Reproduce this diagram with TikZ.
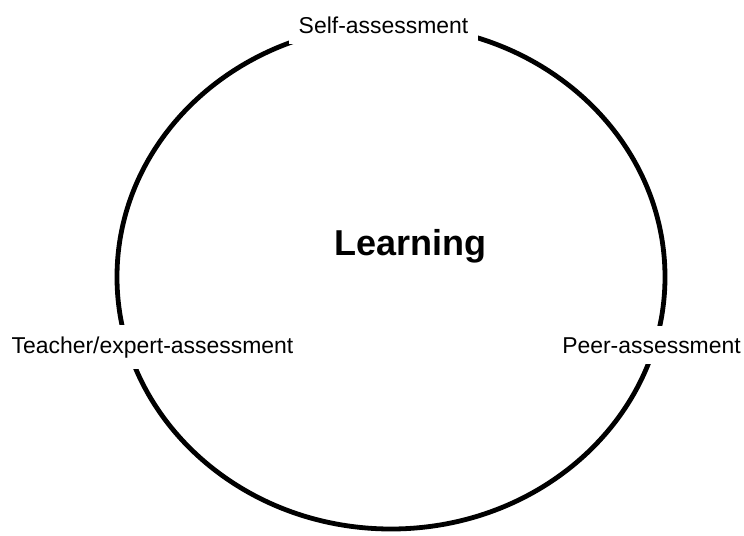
\documentclass[tikz,border=0pt]{standalone}
\usepackage{fontspec}
\setmainfont{Liberation Sans}
\usetikzlibrary{shapes.geometric}

\tikzset{
    cyclering/.style={ellipse,draw,line width=3.6pt,minimum width=411pt,minimum height=378pt},
    assess/.style={fill=white,anchor=base,inner xsep=7.5pt,inner ysep=8.4pt,
        font=\fontsize{17.2}{20}\selectfont},
    centre/.style={anchor=base,font=\fontsize{27}{32}\selectfont\bfseries}
}

\begin{document}
\begin{tikzpicture}[x=0.75pt,y=-0.75pt]
    \useasboundingbox (0,0) rectangle (744,536);
    \node[cyclering] (cycle) at (391,277) {};
    % labels sit on the ring and blank it out
    \node[assess] (self) at (383.5,33) {Self-assessment};
    \node[assess] (teacher) at (152.5,353) {Teacher/expert-assessment};
    \node[assess] (peer) at (651.5,353) {Peer-assessment};
    \node[centre] (learning) at (410.5,255) {Learning};
\end{tikzpicture}
\end{document}
